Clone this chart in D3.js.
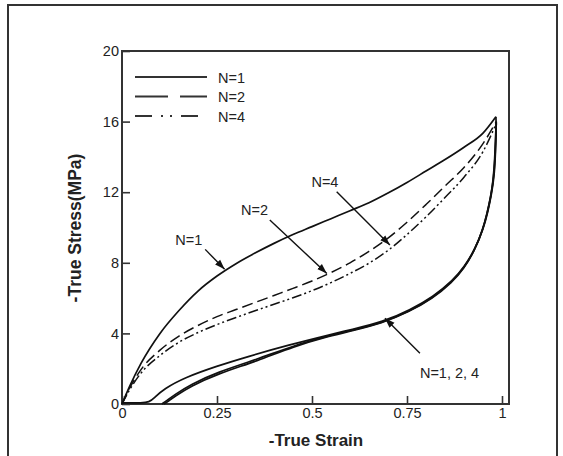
<!DOCTYPE html>
<html><head><meta charset="utf-8">
<script src="https://cdn.jsdelivr.net/npm/d3@7"></script>
<style>
html,body{margin:0;padding:0;background:#fff;}
svg{display:block;}
text{font-family:"Liberation Sans",Arial,sans-serif;fill:#222;}
</style></head>
<body>
<svg id="chart" width="563" height="456"></svg>
<script>
// ---- data (strain, stress) ----
const xTicks = [0, 0.25, 0.5, 0.75, 1];
const xTickLabels = ["0", "0.25", "0.5", "0.75", "1"];
const yTicks = [0, 4, 8, 12, 16, 20];
const yTickLabels = ["0", "4", "8", "12", "16", "20"];
const seriesNames = ["N=1", "N=2", "N=4"];

const loadN1 = [[0,0],[0.02,1.0],[0.05,2.3],[0.1,4.0],[0.15,5.3],[0.2,6.4],[0.25,7.25],[0.3,7.95],[0.35,8.55],[0.4,9.1],[0.45,9.6],[0.5,10.05],[0.55,10.5],[0.6,10.95],[0.65,11.4],[0.7,11.95],[0.75,12.55],[0.8,13.2],[0.85,13.85],[0.9,14.55],[0.95,15.35],[0.984,16.28]];
const loadN2 = [[0,0],[0.02,0.9],[0.05,1.95],[0.1,3.05],[0.15,3.85],[0.2,4.45],[0.25,4.95],[0.3,5.35],[0.35,5.75],[0.4,6.15],[0.45,6.55],[0.5,6.97],[0.55,7.45],[0.6,8.0],[0.65,8.65],[0.7,9.4],[0.75,10.3],[0.8,11.3],[0.85,12.35],[0.9,13.4],[0.95,14.75],[0.985,16.0]];
const loadN4 = [[0,0],[0.02,0.8],[0.05,1.75],[0.1,2.75],[0.15,3.5],[0.2,4.05],[0.25,4.5],[0.3,4.9],[0.35,5.28],[0.4,5.65],[0.45,6.02],[0.5,6.42],[0.55,6.88],[0.6,7.4],[0.65,7.98],[0.7,8.7],[0.75,9.6],[0.8,10.6],[0.85,11.7],[0.9,12.85],[0.95,14.3],[0.985,15.9]];

const unloadN1 = [[0.984,16.28],[0.985,15.6],[0.983,14.3],[0.98,13.0],[0.973,11.94],[0.963,10.9],[0.952,10.0],[0.93,8.8],[0.9,7.75],[0.872,7.03],[0.819,6.08],[0.758,5.33],[0.688,4.66],[0.6,4.2],[0.552,3.95],[0.438,3.34],[0.33,2.68],[0.25,2.15],[0.165,1.5],[0.11,0.85],[0.085,0.35],[0.072,0.1],[0.05,0.06],[0.02,0.06],[0,0.06]];
const unloadN2 = [[0.985,16.0],[0.984,15.3],[0.982,14.0],[0.978,12.8],[0.971,11.8],[0.961,10.8],[0.95,9.9],[0.928,8.7],[0.9,7.7],[0.87,6.95],[0.817,6.0],[0.756,5.25],[0.686,4.6],[0.6,4.15],[0.55,3.9],[0.45,3.3],[0.358,2.55],[0.25,1.8],[0.18,1.1],[0.14,0.55],[0.115,0.15],[0.105,0]];
const unloadN4 = [[0.985,15.9],[0.983,15.2],[0.981,13.9],[0.977,12.7],[0.97,11.7],[0.96,10.75],[0.949,9.85],[0.927,8.65],[0.899,7.65],[0.869,6.9],[0.816,5.95],[0.755,5.22],[0.685,4.58],[0.6,4.12],[0.55,3.87],[0.45,3.25],[0.358,2.45],[0.25,1.7],[0.18,1.0],[0.14,0.45],[0.118,0.1],[0.11,0]];

// annotations: [label, textX, textY, arrowFromX, arrowFromY, arrowToX, arrowToY, anchor] in data units
const annotations = [
  ["N=1", 0.176, 9.01, 0.219, 8.76, 0.270, 7.63, "middle"],
  ["N=2", 0.349, 10.71, 0.389, 10.42, 0.539, 7.40, "middle"],
  ["N=4", 0.534, 12.29, 0.565, 12.03, 0.705, 9.01, "middle"],
  ["N=1, 2, 4", 0.784, 1.47, 0.784, 2.87, 0.692, 4.86, "start"]
];

// ---- layout ----
const svg = d3.select("#chart");
const X0 = 122, X1 = 502, Y0 = 404, Y1 = 51;
const x = d3.scaleLinear().domain([0, 1]).range([X0, X1]);
const y = d3.scaleLinear().domain([0, 20]).range([Y0, Y1]);
const xMax = x.invert(509);

svg.append("rect").attr("width", 563).attr("height", 456).attr("fill", "#fff");
// outer frame
svg.append("rect").attr("x", 8).attr("y", 5).attr("width", 549).attr("height", 470)
  .attr("fill", "none").attr("stroke", "#333").attr("stroke-width", 2);

// axes
const gx = svg.append("g").attr("transform", `translate(0,${Y0})`)
  .call(d3.axisBottom(x).tickValues(xTicks).tickFormat((d, i) => xTickLabels[i]).tickSize(-8).tickPadding(4));
const gy = svg.append("g").attr("transform", `translate(${X0},0)`)
  .call(d3.axisLeft(y).tickValues(yTicks).tickFormat((d, i) => yTickLabels[i]).tickSize(-8).tickPadding(3));
[gx, gy].forEach(g => {
  g.select(".domain").remove();
  g.selectAll(".tick line").attr("stroke", "#333").attr("stroke-width", 1.6);
  g.selectAll(".tick text").attr("font-size", 14.5).attr("fill", "#222")
    .style("font-family", '"Liberation Sans", Arial, sans-serif');
});
// plot box
svg.append("rect").attr("x", X0).attr("y", Y1).attr("width", x(xMax) - X0).attr("height", Y0 - Y1)
  .attr("fill", "none").attr("stroke", "#333").attr("stroke-width", 2);

// curves
const loadLine = d3.line().x(d => x(d[0])).y(d => y(d[1])).curve(d3.curveMonotoneX);
const unloadLine = d3.line().x(d => x(d[0])).y(d => y(d[1])).curve(d3.curveBasis);
const plot = svg.append("g");
const curveDash = {"N=1": null, "N=2": "11,5", "N=4": "10,3,2,3,2,3"};
const loads = {"N=1": loadN1, "N=2": loadN2, "N=4": loadN4};
const unloads = {"N=1": unloadN1, "N=2": unloadN2, "N=4": unloadN4};
seriesNames.forEach(n => {
  plot.append("path").datum(unloads[n]).attr("d", unloadLine)
    .attr("fill", "none").attr("stroke", "#111").attr("stroke-width", 1.7);
});
seriesNames.forEach(n => {
  plot.append("path").datum(loads[n]).attr("d", loadLine)
    .attr("fill", "none").attr("stroke", "#111").attr("stroke-width", n === "N=1" ? 1.7 : 1.5)
    .attr("stroke-dasharray", curveDash[n]);
});

// legend
const legendDash = {"N=1": null, "N=2": "33,12", "N=4": "17,9,2,7,2,9"};
const legendY = [77, 96.5, 116];
seriesNames.forEach((n, i) => {
  svg.append("line").attr("x1", 135).attr("x2", 207).attr("y1", legendY[i]).attr("y2", legendY[i])
    .attr("stroke", "#333").attr("stroke-width", 1.8).attr("stroke-dasharray", legendDash[n]);
  svg.append("text").attr("x", 218).attr("y", legendY[i] + 5.5).attr("font-size", 14.5).text(n);
});

// arrows
const defs = svg.append("defs");
defs.append("marker").attr("id", "ah").attr("viewBox", "0 0 10 10").attr("refX", 10).attr("refY", 5)
  .attr("markerWidth", 10).attr("markerHeight", 10).attr("markerUnits", "userSpaceOnUse").attr("orient", "auto")
  .append("path").attr("d", "M0,1.5 L10,5 L0,8.5 Z").attr("fill", "#111");
annotations.forEach(a => {
  svg.append("text").attr("x", x(a[1])).attr("y", y(a[2])).attr("text-anchor", a[7])
    .attr("font-size", 14.5).text(a[0]);
  svg.append("line").attr("x1", x(a[3])).attr("y1", y(a[4])).attr("x2", x(a[5])).attr("y2", y(a[6]))
    .attr("stroke", "#111").attr("stroke-width", 1.4).attr("marker-end", "url(#ah)");
});

// axis titles
svg.append("text").attr("x", 316).attr("y", 446).attr("text-anchor", "middle")
  .attr("font-size", 17).attr("font-weight", "bold").text("-True Strain");
svg.append("text").attr("transform", "translate(81,228) rotate(-90)").attr("text-anchor", "middle")
  .attr("font-size", 17.5).attr("font-weight", "bold").text("-True Stress(MPa)");
</script>
</body></html>
